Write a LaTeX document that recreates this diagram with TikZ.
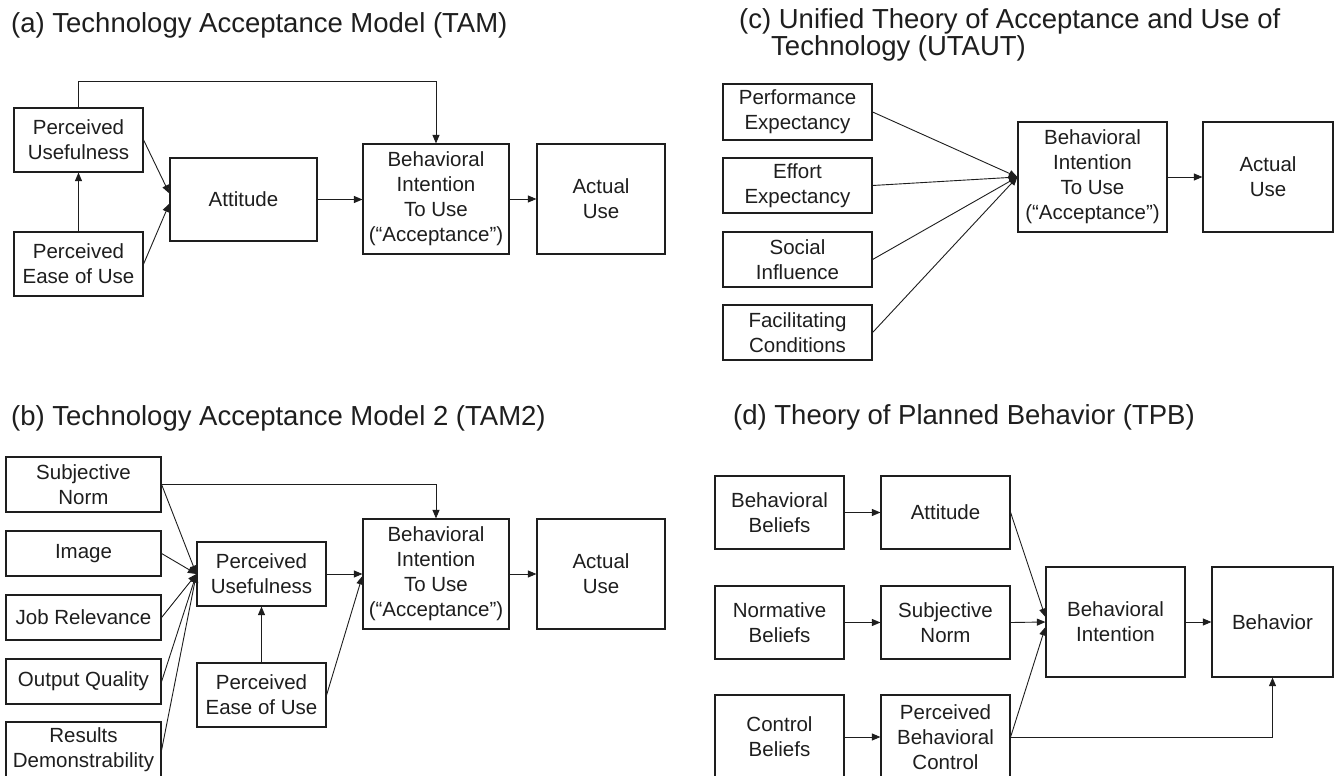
\documentclass[tikz,border=0pt]{standalone}
\usepackage{fontspec}
\setmainfont{Liberation Sans}
\usetikzlibrary{arrows.meta}
\definecolor{ink}{HTML}{1E1E1E}
\tikzset{
  box/.style={draw=ink, line width=1.2pt, inner sep=0pt, align=center, text=ink,
    font=\fontsize{20.5}{25}\selectfont},
  arr/.style={draw=ink, line width=0.9pt, -{Triangle[length=8.5pt,width=7pt]}},
  ttl/.style={anchor=base west, inner sep=0pt, text=ink, font=\fontsize{27.5}{30}\selectfont}
}
\newcommand{\boxnode}[6]{\node[box, minimum width={(#4-#2)*1pt}, minimum height={(#5-#3)*1pt}] (#1) at ({(#2+#4)/2},{(#3+#5)/2}) {#6};}
\begin{document}
\begin{tikzpicture}[x=1pt,y=-1pt]
\useasboundingbox (0,0) rectangle (1336,776);
\clip (0,0) rectangle (1336,776);
\fill[white] (0,0) rectangle (1336,776);

% titles
\node[ttl] (ta) at (11,33) {(a) Technology Acceptance Model (TAM)};
\node[ttl] (tb) at (11,425) {(b) Technology Acceptance Model 2 (TAM2)};
\node[ttl] (tc1) at (739,29) {(c) Unified Theory of Acceptance and Use of};
\node[ttl] (tc2) at (771,56) {Technology (UTAUT)};
\node[ttl] (td) at (733,424) {(d) Theory of Planned Behavior (TPB)};

% (a) TAM
\boxnode{aPU}{14}{108}{143}{172}{Perceived\\Usefulness}
\boxnode{aPE}{14}{232}{143}{296}{Perceived\\Ease of Use}
\boxnode{aAtt}{170}{158}{317}{241}{Attitude}
\boxnode{aBI}{363}{144}{509}{254}{Behavioral\\Intention\\To Use\\(“Acceptance”)}
\boxnode{aAU}{537}{144}{665}{254}{Actual\\Use}
\coordinate (aTop) at (0,81);
\draw[arr] (aPE.north) -- (aPU.south);
\draw[arr] (aPU.east) -- ([yshift=6pt]aAtt.west);
\draw[arr] (aPE.east) -- ([yshift=-4pt]aAtt.west);
\draw[arr] (aAtt.east) -- (aAtt.east -| aBI.west);
\draw[arr] (aBI.east) -- (aAU.west);
\draw[arr] (aPU.north) -- (aPU.north |- aTop) -| (aBI.north);

% (b) TAM2
\boxnode{bSN}{6}{457}{161}{512}{Subjective\\Norm}
\boxnode{bIm}{6}{531}{161}{576}{Image}
\boxnode{bJR}{6}{595}{161}{640}{Job Relevance}
\boxnode{bOQ}{6}{659}{161}{704}{Output Quality}
\boxnode{bRD}{6}{722}{161}{778}{Results\\Demonstrability}
\boxnode{bPU}{197}{542}{326}{606}{Perceived\\Usefulness}
\boxnode{bPE}{197}{663}{326}{727}{Perceived\\Ease of Use}
\boxnode{bBI}{363}{519}{509}{629}{Behavioral\\Intention\\To Use\\(“Acceptance”)}
\boxnode{bAU}{537}{519}{665}{629}{Actual\\Use}
\foreach \n in {bSN,bIm,bJR,bOQ,bRD}{\draw[arr] (\n.east) -- (bPU.west);}
\draw[arr] (bSN.east) -| (bBI.north);
\draw[arr] (bPE.north) -- (bPU.south);
\draw[arr] (bPU.east) -- (bBI.west);
\draw[arr] (bPE.east) -- ([yshift=-2pt]bBI.west);
\draw[arr] (bBI.east) -- (bAU.west);

% (c) UTAUT
\boxnode{cPE}{723}{84}{872}{140}{Performance\\Expectancy}
\boxnode{cEE}{723}{158}{872}{213}{Effort\\Expectancy}
\boxnode{cSI}{723}{232}{872}{287}{Social\\Influence}
\boxnode{cFC}{723}{305}{872}{360}{Facilitating\\Conditions}
\boxnode{cBI}{1018}{122}{1167}{232}{Behavioral\\Intention\\To Use\\(“Acceptance”)}
\boxnode{cAU}{1203}{122}{1333}{232}{Actual\\Use}
\foreach \n in {cPE,cEE,cSI,cFC}{\draw[arr] (\n.east) -- (cBI.west);}
\draw[arr] (cBI.east) -- (cAU.west);

% (d) TPB
\boxnode{dBB}{715}{476}{844}{549}{Behavioral\\Beliefs}
\boxnode{dAtt}{881}{476}{1010}{549}{Attitude}
\boxnode{dNB}{715}{586}{844}{659}{Normative\\Beliefs}
\boxnode{dSN}{881}{586}{1010}{659}{Subjective\\Norm}
\boxnode{dCB}{715}{695}{844}{779}{Control\\Beliefs}
\boxnode{dPBC}{881}{695}{1010}{779}{Perceived\\Behavioral\\Control}
\boxnode{dBI}{1046}{567}{1185}{677}{Behavioral\\Intention}
\boxnode{dBeh}{1212}{567}{1333}{677}{Behavior}
\draw[arr] (dBB.east) -- (dAtt.west);
\draw[arr] (dNB.east) -- (dSN.west);
\draw[arr] (dCB.east) -- (dPBC.west);
\draw[arr] (dAtt.east) -- ([yshift=5pt]dBI.west);
\draw[arr] (dSN.east) -- (dBI.west);
\draw[arr] (dPBC.east) -- ([yshift=-5pt]dBI.west);
\draw[arr] (dPBC.east) -| (dBeh.south);
\draw[arr] (dBI.east) -- (dBeh.west);
\end{tikzpicture}
\end{document}
